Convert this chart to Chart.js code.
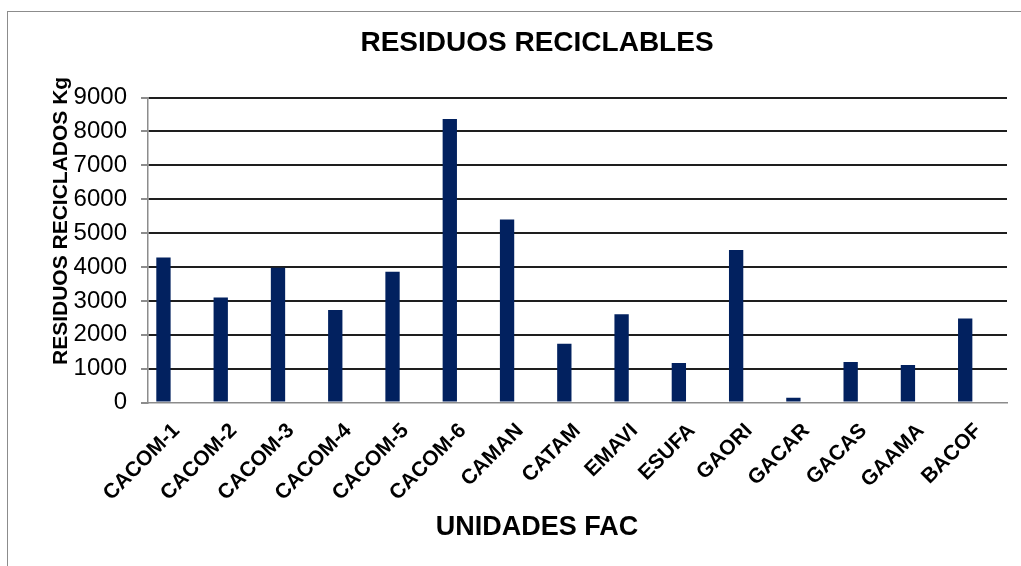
<!DOCTYPE html>
<html>
<head>
<meta charset="utf-8">
<script src="https://cdn.jsdelivr.net/npm/chart.js@4.4.0/dist/chart.umd.min.js"></script>
<style>
  html, body { margin: 0; padding: 0; background: #fff; overflow: hidden; }
  #box { position: absolute; left: 7px; top: 11px; width: 1058px; height: 600px; border-left: 1px solid #8c8c8c; border-top: 1px solid #8c8c8c; }
</style>
</head>
<body>
<div id="box"><canvas id="myChart"></canvas></div>
<script>
const categories = ['CACOM-1', 'CACOM-2', 'CACOM-3', 'CACOM-4', 'CACOM-5', 'CACOM-6', 'CAMAN', 'CATAM', 'EMAVI', 'ESUFA', 'GAORI', 'GACAR', 'GACAS', 'GAAMA', 'BACOF'];
const values = [4280, 3100, 3980, 2730, 3860, 8370, 5400, 1740, 2610, 1170, 4500, 140, 1200, 1110, 2480];
const yTicks = [0, 1000, 2000, 3000, 4000, 5000, 6000, 7000, 8000, 9000];

const fam = "'Liberation Sans', Arial, sans-serif";
// leading spaces push the rotated title up a little, like the original
const yTitle = '          RESIDUOS RECICLADOS Kg';

const ctx = document.getElementById('myChart');

new Chart(ctx, {
  type: 'bar',
  data: {
    datasets: [{
      data: values.map((v, i) => ({ x: i, y: v })),
      backgroundColor: '#02215f',
      borderWidth: 0,
      barPercentage: 0.25,
      categoryPercentage: 1
    }]
  },
  options: {
    responsive: true,
    maintainAspectRatio: false,
    animation: false,
    layout: { padding: { left: 0, right: 0, top: 0, bottom: 68 } },
    plugins: {
      legend: { display: false },
      tooltip: { enabled: false },
      title: {
        display: true,
        text: 'RESIDUOS RECICLABLES',
        color: '#000',
        font: { family: fam, size: 28, weight: 'bold' },
        padding: { top: 14, bottom: 38 }
      },
      subtitle: {
        display: true,
        position: 'bottom',
        text: 'UNIDADES FAC',
        color: '#000',
        font: { family: fam, size: 27, weight: 'bold' },
        padding: 0
      }
    },
    scales: {
      x: {
        type: 'linear',
        offset: false,
        min: -0.27,
        max: 14.73,
        afterBuildTicks: s => { s.ticks = categories.map((c, i) => ({ value: i })); },
        afterFit: s => { s.height = 109; },
        ticks: {
          callback: v => categories[v],
          autoSkip: false,
          minRotation: 45,
          maxRotation: 45,
          labelOffset: 13,
          padding: 16,
          color: '#000',
          font: { family: fam, size: 21, weight: 'bold' }
        },
        grid: { display: false, drawTicks: false },
        border: { color: '#8c8c8c', width: 1.5 }
      },
      y: {
        min: 0,
        max: 9000,
        afterBuildTicks: s => { s.ticks = yTicks.map(v => ({ value: v })); },
        afterFit: s => { s.width = 140; },
        ticks: {
          callback: v => String(v),
          padding: 14,
          color: '#000',
          font: { family: fam, size: 24 }
        },
        grid: {
          color: c => c.tick && c.tick.value === 0 ? 'rgba(0,0,0,0)' : '#1e1e1e',
          lineWidth: 2,
          tickLength: 7,
          tickColor: '#8c8c8c'
        },
        border: { color: '#8c8c8c', width: 1.5 },
        title: {
          display: true,
          text: yTitle,
          color: '#000',
          font: { family: fam, size: 21, weight: 'bold' },
          padding: { top: 41, bottom: 0 }
        }
      },
      // empty box on the right so the titles sit where the original has them
      side: {
        position: 'right',
        ticks: { display: false },
        grid: { display: false, drawTicks: false },
        border: { display: false },
        afterFit: s => { s.width = 59; }
      }
    }
  }
});
</script>
</body>
</html>
